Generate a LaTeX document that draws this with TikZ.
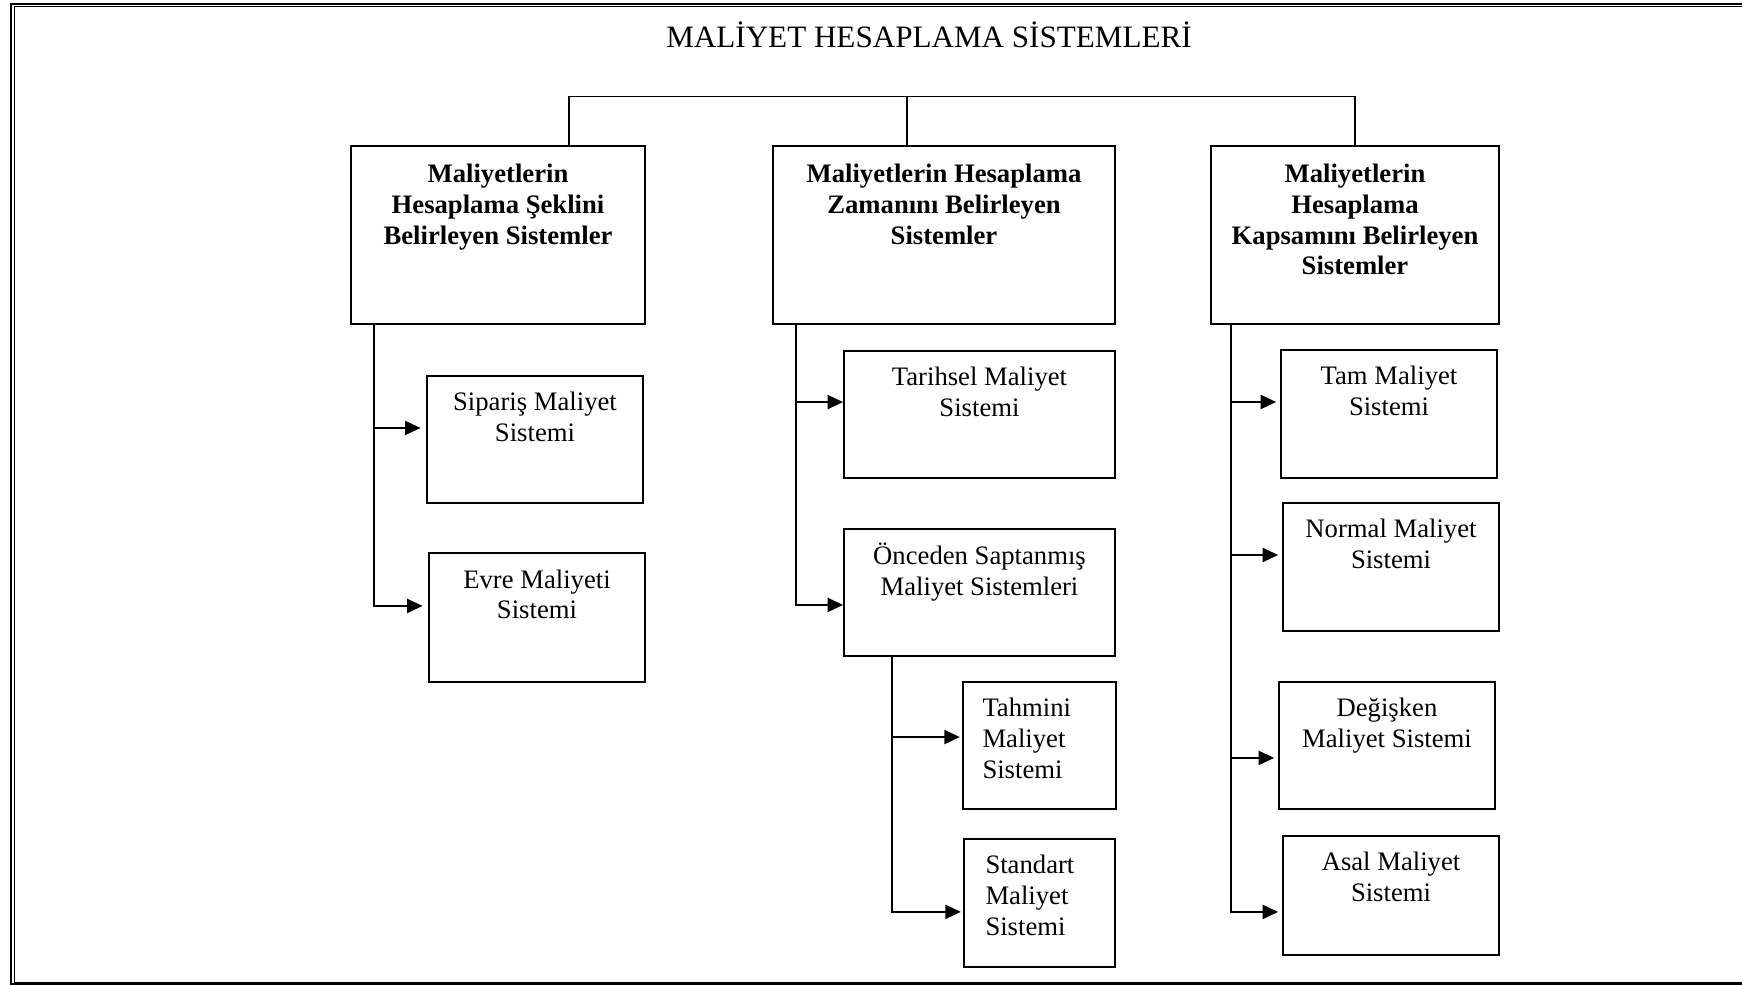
\documentclass[tikz,border=0pt]{standalone}
\usepackage{fontspec}
\setmainfont{Liberation Serif}
\usetikzlibrary{positioning,arrows.meta}
\tikzset{
 box/.style
  = {rectangle, draw, line width=0.8pt, inner sep=0pt},
 hdr/.style
  = {font=\fontsize{12}{13.8}\selectfont\bfseries, align=center, inner sep=0pt},
 txt/.style
  = {font=\fontsize{12}{13.8}\selectfont, align=center, inner sep=0pt},
 txtl/.style
  = {font=\fontsize{12}{13.8}\selectfont, align=left, inner sep=0pt},
 l/.style
  = {draw, line width=0.75pt},
 la/.style
  = {draw, line width=0.75pt, -{Triangle[length=7pt,width=6.4pt]}}
}
\begin{document}
\begin{tikzpicture}[x=0.45pt, y=-0.45pt]
    \useasboundingbox (0,0) rectangle (1742,985);
    % double frame
    \draw [line width=0.9pt] (1742,3.8) -- (10.5,3.8) -- (10.5,984.3) -- (1742,984.3);
    \draw [line width=0.45pt] (1742,6.3) -- (14,6.3) -- (14,982) -- (1742,982);

    \node [anchor=base, inner sep=0pt, font=\fontsize{14}{16}\selectfont] (title) at (929,48) {MALİYET HESAPLAMA SİSTEMLERİ};

    % main groups
    \node [box, minimum width=132.3pt, minimum height=80.1pt] (shape) at (498,235) {};
    \node [box, minimum width=153.9pt, minimum height=80.1pt] (time) at (944,235) {};
    \node [box, minimum width=129.6pt, minimum height=80.1pt] (scope) at (1355,235) {};
    \node [hdr, below=8.45pt of shape.north] (shapetext) {Maliyetlerin\\Hesaplama Şeklini\\Belirleyen Sistemler};
    \node [hdr, below=8.45pt of time.north] (timetext) {Maliyetlerin Hesaplama\\Zamanını Belirleyen\\Sistemler};
    \node [hdr, below=8.45pt of scope.north] (scopetext) {Maliyetlerin\\Hesaplama\\Kapsamını Belirleyen\\Sistemler};

    % systems
    \node [box, minimum width=97.2pt, minimum height=57.2pt] (order) at (535,439.5) {};
    \node [box, minimum width=97.2pt, minimum height=58pt] (process) at (537,617.5) {};
    \node [box, minimum width=122pt, minimum height=57.2pt] (historical) at (979.5,414.5) {};
    \node [box, minimum width=122pt, minimum height=57.2pt] (predet) at (979.5,592.5) {};
    \node [box, minimum width=68.9pt, minimum height=57.2pt] (estimated) at (1039.5,745.5) {};
    \node [box, minimum width=68pt, minimum height=57.6pt] (standard) at (1039.5,903) {};
    \node [box, minimum width=97.2pt, minimum height=57.6pt] (full) at (1389,414) {};
    \node [box, minimum width=97.2pt, minimum height=57.6pt] (normal) at (1391,567) {};
    \node [box, minimum width=97.2pt, minimum height=57.2pt] (variable) at (1387,745.5) {};
    \node [box, minimum width=97.2pt, minimum height=53.6pt] (prime) at (1391,895.5) {};

    \node [txt, below=7.6pt of order.north] (ordertext) {Sipariş Maliyet\\Sistemi};
    \node [txt, below=7.6pt of process.north] (processtext) {Evre Maliyeti\\Sistemi};
    \node [txt, below=7.6pt of historical.north] (historicaltext) {Tarihsel Maliyet\\Sistemi};
    \node [txt, below=6.5pt of predet.north] (predettext) {Önceden Saptanmış\\Maliyet Sistemleri};
    \node [txtl, below right=7.6pt and 9pt of estimated.north west] (estimatedtext) {Tahmini\\Maliyet\\Sistemi};
    \node [txtl, below right=7.6pt and 9.9pt of standard.north west] (standardtext) {Standart\\Maliyet\\Sistemi};
    \node [txt, below=7.6pt of full.north] (fulltext) {Tam Maliyet\\Sistemi};
    \node [txt, below=7.6pt of normal.north] (normaltext) {Normal Maliyet\\Sistemi};
    \node [txt, below=7.6pt of variable.north] (variabletext) {Değişken\\Maliyet Sistemi};
    \node [txt, below=7.6pt of prime.north] (primetext) {Asal Maliyet\\Sistemi};

    % top bus
    \coordinate (bus) at (907,96.5);
    \path [l] ([xshift=32pt]shape.north) |- (scope.north |- bus) -- (scope.north);
    \path [l] (time.north -| bus) -- (bus);

    % branch points and arrow ends
    \coordinate (c1) at ([xshift=10.8pt]shape.south west);
    \coordinate (c2) at ([xshift=10.8pt]time.south west);
    \coordinate (c3) at ([xshift=9.5pt]scope.south west);
    \coordinate (c4) at ([xshift=22pt]predet.south west);
    \coordinate (orderin) at ([yshift=5.2pt]order.west);
    \coordinate (processin) at ([yshift=5.2pt]process.west);
    \coordinate (historicalin) at ([yshift=5.6pt]historical.west);
    \coordinate (predetin) at ([yshift=-5.6pt]predet.west);
    \coordinate (estimatedin) at ([yshift=3.8pt]estimated.west);
    \coordinate (standardin) at ([yshift=-4pt]standard.west);
    \coordinate (fullin) at ([yshift=5.4pt]full.west);
    \coordinate (normalin) at ([yshift=5.4pt]normal.west);
    \coordinate (variablein) at ([yshift=-5.6pt]variable.west);
    \coordinate (primein) at ([yshift=-7.4pt]prime.west);

    \path [la, shorten >=2.5pt] (c1) |- (processin);
    \path [la, shorten >=2.5pt] (c1 |- orderin) -- (orderin);
    \path [la] (c2) |- (predetin);
    \path [la] (c2 |- historicalin) -- (historicalin);
    \path [la, shorten >=1pt] (c4) |- (standardin);
    \path [la, shorten >=1pt] (c4 |- estimatedin) -- (estimatedin);
    \path [la, shorten >=1.8pt] (c3) |- (primein);
    \path [la, shorten >=1.8pt] (c3 |- fullin) -- (fullin);
    \path [la, shorten >=1.8pt] (c3 |- normalin) -- (normalin);
    \path [la, shorten >=1.8pt] (c3 |- variablein) -- (variablein);

\end{tikzpicture}
\end{document}
